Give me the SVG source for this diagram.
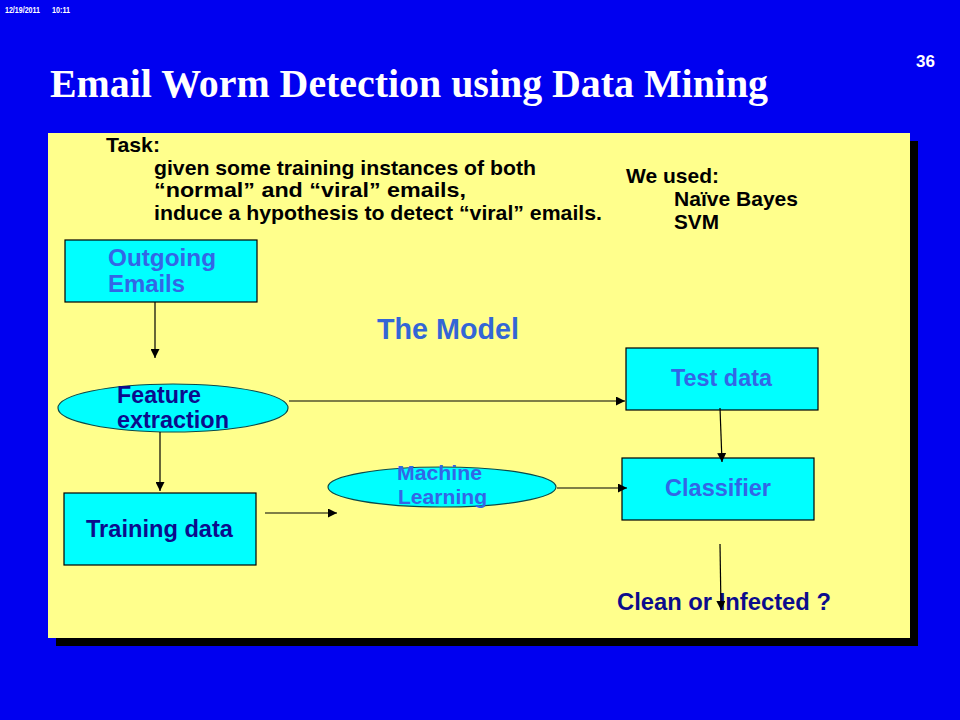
<svg xmlns="http://www.w3.org/2000/svg" width="960" height="720" viewBox="0 0 960 720">
<defs>
<marker id="ah" viewBox="0 0 10 10" refX="10" refY="5" markerWidth="9" markerHeight="9" markerUnits="userSpaceOnUse" orient="auto">
<path d="M0,0 L10,5 L0,10 z" fill="#000"/>
</marker>
</defs>
<style>
.sans{font-family:"Liberation Sans",Arial,sans-serif;font-weight:bold}
.blk{fill:#000}
.navy{fill:#0C0C8C}
.lb{fill:#3366E6}
.box{fill:#00FFFF;stroke:#000;stroke-width:1.2}
.ell{fill:#00FFFF;stroke:#0A4A4A;stroke-width:1.2}
.conn line{stroke:#000;stroke-width:1.2;marker-end:url(#ah)}
</style>
<rect x="0" y="0" width="960" height="720" fill="#0000F0"/>
<text x="5" y="13" class="sans" font-size="9" fill="#fff" textLength="35" lengthAdjust="spacingAndGlyphs">12/19/2011</text>
<text x="52" y="13" class="sans" font-size="9" fill="#fff" textLength="18" lengthAdjust="spacingAndGlyphs">10:11</text>
<text x="916" y="67" class="sans" font-size="17" fill="#fff">36</text>
<text x="50" y="97" font-family="'Liberation Serif','Times New Roman',serif" font-weight="bold" font-size="40" fill="#fff" textLength="718" lengthAdjust="spacingAndGlyphs">Email Worm Detection using Data Mining</text>
<rect x="56" y="141" width="862" height="505" fill="#000"/>
<rect x="48" y="133" width="862" height="505" fill="#FFFF8C"/>
<g id="task" class="sans blk" font-size="21">
<text x="106" y="152" textLength="54" lengthAdjust="spacingAndGlyphs">Task:</text>
<text x="154" y="175" textLength="382" lengthAdjust="spacingAndGlyphs">given some training instances of both</text>
<text x="154" y="197" textLength="312" lengthAdjust="spacingAndGlyphs">“normal” and “viral”  emails,</text>
<text x="154" y="220" textLength="448" lengthAdjust="spacingAndGlyphs">induce a hypothesis to detect “viral” emails.</text>
</g>
<g id="used" class="sans blk" font-size="21">
<text x="626" y="183" textLength="93" lengthAdjust="spacingAndGlyphs">We used:</text>
<text x="674" y="206" textLength="124" lengthAdjust="spacingAndGlyphs">Naïve Bayes</text>
<text x="674" y="229" textLength="45" lengthAdjust="spacingAndGlyphs">SVM</text>
</g>
<text id="model" x="377" y="339" class="sans" fill="#3366D6" font-size="29" textLength="142" lengthAdjust="spacingAndGlyphs">The Model</text>
<g id="outgoing">
<rect x="65" y="240" width="192" height="62" class="box"/>
<text x="108" y="266" class="sans lb" font-size="24" textLength="108" lengthAdjust="spacingAndGlyphs">Outgoing</text>
<text x="108" y="292" class="sans lb" font-size="24" textLength="77" lengthAdjust="spacingAndGlyphs">Emails</text>
</g>
<g id="feature">
<ellipse cx="173" cy="408" rx="115" ry="24" class="ell"/>
<text x="117" y="403" class="sans navy" font-size="23" textLength="84" lengthAdjust="spacingAndGlyphs">Feature</text>
<text x="117" y="428" class="sans navy" font-size="23" textLength="112" lengthAdjust="spacingAndGlyphs">extraction</text>
</g>
<g id="testdata">
<rect x="626" y="348" width="192" height="62" class="box"/>
<text x="671" y="386" class="sans lb" font-size="23" textLength="101" lengthAdjust="spacingAndGlyphs">Test data</text>
</g>
<g id="training">
<rect x="64" y="493" width="192" height="72" class="box"/>
<text x="86" y="537" class="sans navy" font-size="23" textLength="147" lengthAdjust="spacingAndGlyphs">Training data</text>
</g>
<g id="ml">
<ellipse cx="442" cy="487" rx="114" ry="20" class="ell"/>
<text x="397" y="480" class="sans lb" font-size="20" textLength="85" lengthAdjust="spacingAndGlyphs">Machine</text>
<text x="398" y="504" class="sans lb" font-size="20" textLength="89" lengthAdjust="spacingAndGlyphs">Learning</text>
</g>
<g id="classifier">
<rect x="622" y="458" width="192" height="62" class="box"/>
<text x="665" y="496" class="sans lb" font-size="23" textLength="106" lengthAdjust="spacingAndGlyphs">Classifier</text>
</g>
<text id="result" x="617" y="610" class="sans navy" font-size="23" textLength="214" lengthAdjust="spacingAndGlyphs">Clean or Infected ?</text>
<g class="conn">
<line x1="155" y1="302" x2="155" y2="358"/>
<line x1="289" y1="401" x2="625" y2="401"/>
<line x1="160" y1="432" x2="160" y2="491"/>
<line x1="265" y1="513" x2="337" y2="513"/>
<line x1="557" y1="488" x2="627" y2="488"/>
<line x1="720" y1="408" x2="722" y2="462"/>
<line x1="720" y1="544" x2="721" y2="610"/>
</g>
</svg>
